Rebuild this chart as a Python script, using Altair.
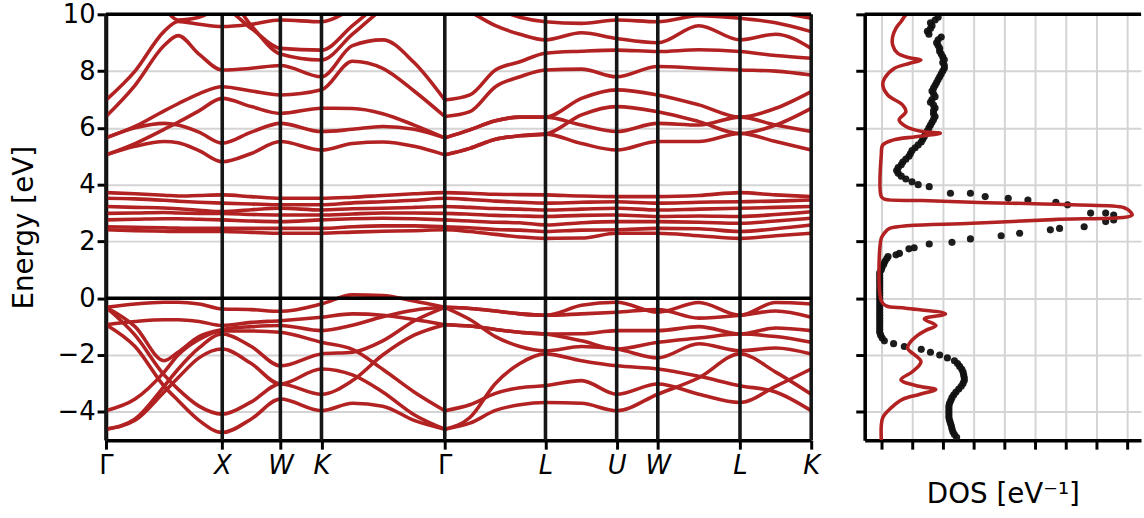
import altair as alt
import pandas as pd

# ---------------------------------------------------------------- k-path
K_NODES = [0.0, 1.0, 1.5, 1.8536, 2.9142, 3.7802, 4.3926, 4.7462, 5.4533, 6.0657]
K_NAMES = ["Γ", "X", "W", "K", "Γ", "L", "U", "W", "L", "K"]

# sampling of the two halves of the path (Γ-X-W-K-Γ and Γ-L-U-W-L-K)
K_LEFT = [0.0, 0.25, 0.5, 0.62, 0.8, 1.0, 1.25, 1.5, 1.8536, 2.12, 2.38, 2.65, 2.9142]
K_RIGHT = [2.9142, 3.13, 3.35, 3.56, 3.7802, 4.09, 4.3926, 4.7462, 5.10, 5.4533, 5.76, 6.0657]
K_ALL = K_LEFT + K_RIGHT[1:]

# ---------------------------------------------------------------- bands (eV)
CB_LEFT = [
    [5.05, 5.35, 5.52, 5.48, 5.20, 4.81, 5.10, 5.52, 5.22, 5.45, 5.50, 5.35, 5.05],
    [5.65, 6.00, 6.16, 6.10, 5.85, 5.46, 5.85, 6.16, 5.87, 5.95, 6.05, 5.95, 5.65],
    [5.05, 5.45, 5.95, 6.20, 6.60, 7.04, 6.75, 6.51, 6.69, 6.68, 6.50, 6.10, 5.65],
    [5.65, 6.05, 6.60, 6.85, 7.20, 7.45, 7.30, 7.16, 7.34, 8.35, 8.10, 7.30, 6.40],
    [6.40, 7.50, 8.90, 9.25, 8.60, 8.04, 8.10, 8.20, 7.80, 8.90, 9.10, 8.30, 6.98],
    [6.98, 8.00, 9.40, 9.75, 9.65, 9.57, 9.65, 9.80, 9.74, 10.2, 10.8, 11.3, 11.5],
    [12.0, 11.2, 10.2, 9.80, 9.90, 10.2, 9.50, 8.80, 8.74, 9.60, 10.5, 11.5, 12.0],
    [13.0, 12.0, 11.0, 10.6, 10.6, 10.8, 9.60, 8.60, 8.39, 9.30, 10.2, 11.0, 11.8],
]
CB_RIGHT = [
    [5.05, 5.28, 5.60, 5.72, 5.78, 5.45, 5.22, 5.52, 5.52, 5.80, 5.52, 5.22],
    [5.05, 5.28, 5.60, 5.72, 5.78, 6.46, 6.75, 6.57, 6.22, 5.80, 6.10, 6.69],
    [5.65, 5.93, 6.25, 6.38, 6.38, 6.10, 5.87, 6.16, 6.10, 6.38, 6.10, 5.87],
    [5.65, 5.93, 6.25, 6.38, 6.38, 7.04, 7.34, 7.16, 6.81, 6.38, 6.69, 7.28],
    [6.40, 6.57, 7.45, 7.80, 8.04, 8.07, 7.80, 8.16, 8.10, 8.04, 8.00, 7.86],
    [6.98, 7.16, 8.04, 8.33, 8.63, 8.70, 8.74, 8.69, 8.75, 8.69, 8.55, 8.45],
    [10.6, 10.1, 9.60, 9.30, 9.10, 9.35, 9.15, 9.00, 9.60, 9.10, 9.30, 8.80],
    [11.0, 10.6, 10.2, 9.90, 9.74, 9.68, 9.80, 9.74, 9.95, 9.86, 9.70, 9.39],
    [12.0, 11.5, 11.0, 10.6, 10.4, 10.3, 10.2, 10.4, 10.2, 10.4, 10.1, 9.86],
]
FLAT = [
    [3.72, 3.68, 3.63, 3.60, 3.62, 3.64, 3.58, 3.52, 3.52, 3.56, 3.62, 3.68, 3.72, 3.70, 3.66, 3.65, 3.64, 3.60, 3.58, 3.58, 3.62, 3.72, 3.64, 3.58],
    [3.52, 3.50, 3.45, 3.42, 3.38, 3.35, 3.32, 3.29, 3.29, 3.36, 3.40, 3.45, 3.52, 3.48, 3.42, 3.38, 3.35, 3.38, 3.40, 3.35, 3.38, 3.40, 3.42, 3.46],
    [3.23, 3.20, 3.18, 3.15, 3.10, 3.05, 3.12, 3.17, 3.11, 3.15, 3.17, 3.20, 3.23, 3.20, 3.16, 3.14, 3.11, 3.14, 3.17, 3.11, 3.14, 3.17, 3.20, 3.23],
    [2.99, 3.00, 3.02, 3.00, 2.99, 2.99, 2.95, 2.93, 2.93, 2.97, 3.00, 3.00, 2.99, 2.96, 2.92, 2.90, 2.88, 2.92, 2.93, 2.88, 2.90, 2.88, 2.95, 3.05],
    [2.76, 2.78, 2.80, 2.80, 2.78, 2.76, 2.72, 2.70, 2.76, 2.80, 2.82, 2.80, 2.76, 2.72, 2.68, 2.66, 2.58, 2.66, 2.70, 2.70, 2.68, 2.64, 2.72, 2.82],
    [2.52, 2.50, 2.48, 2.47, 2.46, 2.46, 2.46, 2.46, 2.46, 2.52, 2.55, 2.55, 2.52, 2.48, 2.42, 2.40, 2.35, 2.40, 2.41, 2.46, 2.45, 2.35, 2.45, 2.58],
    [2.41, 2.38, 2.36, 2.35, 2.35, 2.35, 2.32, 2.29, 2.29, 2.33, 2.36, 2.38, 2.41, 2.35, 2.25, 2.16, 2.11, 2.12, 2.29, 2.29, 2.20, 2.11, 2.20, 2.29],
]
VB_LEFT = [
    [-0.32, -0.20, -0.14, -0.14, -0.20, -0.38, -0.40, -0.46, -0.20, 0.12, 0.10, -0.10, -0.32],
    [-0.93, -0.82, -0.76, -0.76, -0.82, -0.96, -0.85, -0.79, -0.67, -0.55, -0.60, -0.75, -0.93],
    [-0.32, -1.00, -2.20, -1.90, -1.35, -1.10, -1.00, -0.96, -1.14, -0.95, -0.65, -0.42, -0.32],
    [-0.32, -1.30, -2.70, -3.20, -3.80, -4.08, -3.65, -3.02, -3.38, -2.90, -2.00, -1.30, -0.93],
    [-0.93, -1.70, -3.10, -3.60, -4.30, -4.73, -4.25, -3.55, -3.96, -3.70, -3.80, -4.30, -4.61],
    [-3.96, -3.55, -2.60, -2.00, -1.45, -1.15, -1.15, -1.20, -1.55, -1.80, -2.50, -3.30, -3.96],
    [-4.61, -4.25, -3.10, -2.50, -1.75, -1.26, -1.70, -2.38, -1.96, -1.90, -1.50, -0.80, -0.32],
    [-4.61, -4.30, -3.30, -2.80, -2.10, -1.79, -2.30, -3.02, -2.49, -2.70, -3.30, -4.10, -4.61],
]
VB_RIGHT = [
    [-0.32, -0.36, -0.45, -0.55, -0.60, -0.25, -0.14, -0.49, -0.15, -0.60, -0.15, -0.20],
    [-0.32, -0.36, -0.45, -0.55, -0.60, -0.55, -0.49, -0.40, -0.70, -0.60, -0.45, -0.67],
    [-0.93, -0.98, -1.10, -1.20, -1.26, -1.25, -1.14, -1.14, -1.00, -1.26, -1.05, -1.14],
    [-0.93, -0.98, -1.10, -1.20, -1.26, -1.50, -1.79, -1.55, -1.40, -1.26, -1.35, -1.55],
    [-0.32, -0.75, -1.35, -1.70, -1.85, -1.70, -1.79, -2.10, -1.60, -1.85, -1.75, -1.96],
    [-4.61, -4.20, -3.00, -2.30, -1.96, -2.20, -2.38, -2.49, -2.75, -3.08, -3.30, -3.96],
    [-3.96, -3.75, -3.35, -3.15, -3.08, -2.90, -3.38, -3.02, -3.38, -3.67, -3.10, -2.49],
    [-4.61, -4.40, -3.95, -3.75, -3.67, -3.70, -3.96, -3.38, -2.80, -1.96, -2.60, -3.38],
]

# ---------------------------------------------------------------- DOS
DOS_E = [10.0, 9.98, 9.74, 9.51, 9.21, 8.92, 8.63, 8.47, 8.39, 8.27, 8.10, 7.75, 7.51,
         7.16, 6.81, 6.57, 6.28, 6.05, 5.87, 5.81, 5.69, 5.57, 5.40, 5.05, 3.58, 3.49,
         3.44, 3.38, 3.29, 3.19, 3.05, 2.93, 2.77, 2.64, 2.46, 2.29, 2.11, -0.09, -0.27,
         -0.35, -0.55, -0.73, -0.96, -1.13, -1.31, -1.60, -1.77, -2.23, -2.58, -2.87,
         -3.10, -3.21, -3.39, -3.56, -3.91, -4.20, -4.49, -5.0]
DOS_VAL = [0.85, 0.80, 0.64, 0.48, 0.37, 0.37, 0.53, 0.91, 1.29, 0.91, 0.43, 0.11, 0.05,
           0.21, 0.69, 0.80, 0.58, 0.80, 1.33, 1.92, 1.12, 0.37, 0.05, 0.00, 0.00, 0.10,
           1.34, 2.95, 6.20, 7.90, 8.10, 8.16, 5.60, 2.95, 0.27, 0.10, 0.00, 0.00, 0.16,
           0.80, 2.09, 1.40, 1.78, 1.45, 1.18, 0.91, 0.86, 1.29, 1.02, 0.64, 1.23, 1.77,
           1.23, 0.69, 0.27, 0.05, 0.00, 0.00]

# measured spectrum
EXP_E = [9.9, 9.8, 9.7, 9.6, 9.5, 9.4, 9.3, 9.2, 9.1, 9.0, 8.9, 8.8, 8.7, 8.6, 8.5, 8.4,
         8.3, 8.2, 8.1, 8.0, 7.9, 7.8, 7.7, 7.6, 7.5, 7.4, 7.3, 7.2, 7.1, 7.0, 6.9, 6.8,
         6.7, 6.6, 6.5, 6.4, 6.3, 6.2, 6.1, 6.0, 5.9, 5.8, 5.7, 5.6, 5.5, 5.4, 5.3, 5.2,
         5.1, 5.0, 4.9, 4.8, 4.7, 4.6, 4.5, 4.4, 4.3, 4.2, 4.1, 4.0,
         3.93, 3.70, 3.70, 3.58, 3.52, 3.46, 3.38, 3.29, 3.00, 3.00, 2.93, 2.76, 2.70,
         2.52, 2.46, 2.41, 2.29, 2.20, 2.09, 1.97, 1.91, 1.78, 1.74, 1.58, 1.53, 1.47,
         1.4, 1.3, 1.2, 1.1, 1.0, 0.9, 0.8, 0.7, 0.6, 0.5, 0.4, 0.3, 0.2, 0.1, 0.0,
         -0.1, -0.2, -0.3, -0.4, -0.5, -0.6, -0.7, -0.8, -0.9, -1.0, -1.1, -1.2, -1.3,
         -1.4, -1.5, -1.6, -1.7, -1.8, -1.9, -2.0, -2.1, -2.2, -2.3, -2.4, -2.5, -2.6,
         -2.7, -2.8, -2.9, -3.0, -3.1, -3.2, -3.3, -3.4, -3.5, -3.6, -3.7, -3.8, -3.9,
         -4.0, -4.1, -4.2, -4.3, -4.4, -4.5, -4.6, -4.7, -4.8, -4.9]
EXP_VAL = [1.85, 1.75, 1.60, 1.65, 1.60, 1.50, 1.55, 1.95, 1.85, 1.80, 1.85, 1.90, 1.90,
           1.95, 2.00, 2.05, 2.00, 2.05, 2.05, 2.00, 1.95, 1.90, 1.85, 1.80, 1.75, 1.70,
           1.65, 1.70, 1.75, 1.65, 1.60, 1.70, 1.75, 1.70, 1.70, 1.75, 1.70, 1.65, 1.60,
           1.55, 1.50, 1.45, 1.40, 1.35, 1.30, 1.20, 1.10, 1.00, 0.95, 0.90, 0.80, 0.70,
           0.65, 0.55, 0.50, 0.55, 0.65, 0.80, 1.00, 1.20,
           1.56, 2.25, 2.90, 3.38, 4.13, 4.77, 5.68, 6.06, 6.81, 7.30, 7.56, 7.56, 7.30,
           6.60, 5.80, 5.50, 4.50, 3.90, 2.90, 2.30, 1.56, 1.07, 0.90, 0.59, 0.48, 0.22,
           0.18, 0.12, 0.08, 0.03, 0.00, -0.05, -0.05, -0.05, -0.05, -0.05, -0.05, -0.05,
           -0.05, -0.05, -0.05, -0.05, -0.05, -0.05, -0.05, -0.05, -0.05, -0.05, -0.05,
           -0.05, -0.05, -0.05, -0.05, -0.02, 0.03, 0.10, 0.40, 0.75, 1.30, 1.60, 1.90,
           2.15, 2.38, 2.48, 2.55, 2.62, 2.66, 2.68, 2.70, 2.70, 2.66, 2.60, 2.52, 2.43,
           2.36, 2.30, 2.26, 2.22, 2.20, 2.20, 2.20, 2.20, 2.20, 2.22, 2.25, 2.28, 2.30,
           2.33, 2.38, 2.45]

E_TICKS = [-4, -2, 0, 2, 4, 6, 8, 10]
DOS_TICKS = [0, 1, 2, 3, 4, 5, 6, 7, 8]

RED = "#b22222"
FONT = "DejaVu Sans"

# ---------------------------------------------------------------- tables
rows = []


def add_pieces(prefix, kgrid, bands):
    for i, band in enumerate(bands):
        for k, e in zip(kgrid, band):
            rows.append({"band": f"{prefix}{i}", "k": k, "E": e})


add_pieces("cl", K_LEFT, CB_LEFT)
add_pieces("cr", K_RIGHT, CB_RIGHT)
add_pieces("f", K_ALL, FLAT)
add_pieces("vl", K_LEFT, VB_LEFT)
add_pieces("vr", K_RIGHT, VB_RIGHT)
bands_df = pd.DataFrame(rows)

nodes_df = pd.DataFrame({"k": K_NODES})
zero_df = pd.DataFrame({"E": [0.0]})
top_df = pd.DataFrame({"E": [10.0]})
dos_df = pd.DataFrame({"E": DOS_E, "dos": DOS_VAL})
exp_df = pd.DataFrame({"E": EXP_E, "dos": EXP_VAL})

# ---------------------------------------------------------------- axes
label_expr = ""
for i in range(len(K_NODES) - 1):
    mid = 0.5 * (K_NODES[i] + K_NODES[i + 1])
    label_expr += f"datum.value < {mid:.4f} ? '{K_NAMES[i]}' : "
label_expr += f"'{K_NAMES[-1]}'"

gamma_test = "datum.value < 0.5 || (datum.value > 2.5 && datum.value < 3.3)"

k_axis = alt.Axis(
    values=K_NODES, labelExpr=label_expr, grid=False, title=None,
    labelFlush=False, labelOverlap=False, labelPadding=4, labelFontSize=26,
    labelFontStyle={"condition": {"test": gamma_test, "value": "normal"}, "value": "italic"},
)
e_axis = alt.Axis(values=E_TICKS, grid=True, title="Energy [eV]", titlePadding=19)

PW, PH = 712, 430      # band panel
DW = 279               # DOS panel

x_k = alt.X("k:Q", scale=alt.Scale(domain=[0, K_NODES[-1]], nice=False, zero=False), axis=k_axis)
y_e = alt.Y("E:Q", scale=alt.Scale(domain=[-5, 10], nice=False, zero=False), axis=e_axis)

bands = alt.Chart(bands_df).mark_line(
    color=RED, strokeWidth=3.6, interpolate="monotone", clip=True
).encode(x=x_k, y=y_e, detail="band:N", order="k:Q")

node_lines = alt.Chart(nodes_df).mark_rule(color="#161616", strokeWidth=3.6).encode(x=x_k)
zero_line = alt.Chart(zero_df).mark_rule(color="black", strokeWidth=3.6).encode(y=y_e)
top_line = alt.Chart(top_df).mark_rule(color="black", strokeWidth=3.6).encode(y=y_e)

band_panel = alt.layer(bands, node_lines, zero_line, top_line).properties(width=PW, height=PH)

# ---------------------------------------------------------------- DOS panel
d_axis = alt.Axis(values=DOS_TICKS, labels=False, grid=True, title="DOS [eV⁻¹]", titlePadding=30)
ed_axis = alt.Axis(values=E_TICKS, labels=False, grid=True, title=None)

x_d = alt.X("dos:Q", scale=alt.Scale(domain=[-0.54, 8.45], nice=False, zero=False), axis=d_axis)
y_d = alt.Y("E:Q", scale=alt.Scale(domain=[-5, 10], nice=False, zero=False), axis=ed_axis)

exp_pts = alt.Chart(exp_df).mark_circle(size=52, color="#111111", opacity=0.95, clip=True).encode(x=x_d, y=y_d)
dos_line = alt.Chart(dos_df).mark_line(
    color=RED, strokeWidth=3.6, interpolate="catmull-rom", clip=True
).encode(x=x_d, y=y_d, order=alt.Order("E:Q"))
dos_top = alt.Chart(top_df).mark_rule(color="black", strokeWidth=3.6).encode(y=y_d)

dos_panel = alt.layer(exp_pts, dos_line, dos_top).properties(width=DW, height=PH)

chart = (
    alt.hconcat(band_panel, dos_panel, spacing=33)
    .properties(padding={"left": 10, "top": -2, "right": 0, "bottom": 0})
    .configure(font=FONT)
    .configure_view(stroke="transparent")
    .configure_axis(
        labelFont=FONT, titleFont=FONT, labelFontSize=26, titleFontSize=28,
        titleFontWeight="normal", labelColor="black", titleColor="black",
        domainColor="black", domainWidth=3.6, tickColor="black", tickWidth=3,
        tickSize=9, gridColor="#d4d4d4", gridWidth=2,
    )
)

chart.save("out.html", embed_options={"renderer": "svg", "actions": False})
